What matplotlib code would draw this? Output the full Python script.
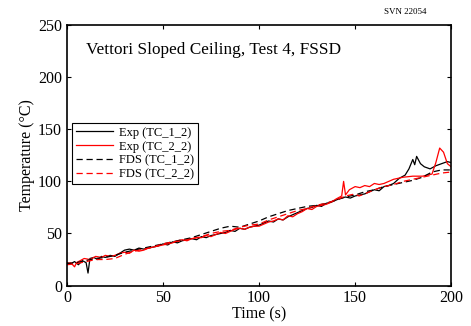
import numpy as np
import matplotlib.pyplot as plt

plt.rcParams['font.family'] = ['Liberation Serif', 'DejaVu Serif']

# Exp TC_1_2 (black solid)
t_exp1 = [0, 2, 4, 6, 8, 10, 11, 12, 14, 16, 18, 20, 22.5, 25, 27.5, 30, 32.5, 35, 37.5,
          40, 42.5, 45, 47.5, 50, 52.5, 55, 57.5, 60, 62.5, 65, 67.5, 70, 72.5, 75,
          77.5, 80, 82.5, 85, 87.5, 90, 92.5, 95, 97.5, 100, 102.5, 105, 107.5, 110,
          112.5, 115, 117.5, 120, 122.5, 125, 127.5, 130, 132.5, 135, 137.5, 140,
          142.5, 145, 147.5, 150, 152.5, 155, 157.5, 160, 162.5, 165, 167.5, 170,
          173, 176, 178, 180, 181, 182, 184, 186, 189, 192, 195, 198, 200]
T_exp1 = [22, 21, 23, 20, 24, 22, 12, 26, 27, 25, 28, 27, 29, 28, 31, 34, 35, 34, 36,
          35, 36, 37, 38, 40, 39, 42, 41, 43, 44, 45, 44, 47, 46, 48,
          49, 50, 51, 53, 52, 55, 54, 56, 57, 58, 60, 62, 61, 64,
          63, 66, 68, 70, 72, 74, 75, 77, 76, 79, 80, 82,
          84, 85, 84, 86, 87, 88, 90, 92, 91, 95, 96, 98,
          103, 106, 112, 121, 116, 124, 117, 114, 112, 115, 117, 119, 118]

# Exp TC_2_2 (red solid)
t_exp2 = [0, 2, 4, 5, 7, 9, 12, 15, 18, 20, 22.5, 25, 27.5, 30, 32.5, 35, 37.5, 40,
          42.5, 45, 47.5, 50, 52.5, 55, 57.5, 60, 62.5, 65, 67.5, 70, 72.5, 75, 77.5,
          80, 82.5, 85, 87.5, 90, 92.5, 95, 97.5, 100, 102.5, 105, 107.5, 110, 112.5,
          115, 117.5, 120, 122.5, 125, 127.5, 130, 132.5, 135, 137.5, 140, 143, 144,
          145, 147, 150, 152.5, 155, 157.5, 160, 162.5, 165, 167.5, 170, 175, 180,
          185, 190, 192, 194, 196, 198, 200]
T_exp2 = [21, 22, 18, 22, 24, 26, 25, 28, 27, 29, 28, 29, 31, 32, 31, 34, 33, 34,
          36, 37, 38, 39, 40, 41, 43, 44, 43, 45, 46, 46, 48, 47, 49,
          51, 50, 52, 54, 55, 54, 56, 57, 57, 59, 61, 62, 64, 63,
          67, 66, 69, 71, 74, 73, 76, 77, 78, 80, 83, 86, 100,
          87, 92, 95, 94, 96, 95, 98, 97, 98, 100, 102, 104, 105,
          105, 107, 118, 132, 128, 117, 114]

# FDS TC_1_2 (black dashed)
t_fds1 = [0, 5, 10, 15, 20, 25, 30, 35, 40, 45, 50, 55, 60, 65, 70, 75, 80, 85, 90, 95,
          100, 105, 110, 115, 120, 125, 130, 135, 140, 145, 150, 155, 160, 165,
          170, 175, 180, 185, 190, 195, 200]
T_fds1 = [21, 22, 24, 26, 27, 29, 32, 34, 36, 38, 40, 42, 44, 46, 49, 52, 55, 57, 56, 59,
          62, 66, 69, 72, 74, 76, 77, 79, 82, 85, 87, 90, 92, 95,
          97, 99, 101, 104, 109, 111, 111]

# FDS TC_2_2 (red dashed)
t_fds2 = [0, 5, 10, 15, 20, 25, 30, 35, 40, 45, 50, 55, 60, 65, 70, 75, 80, 85, 90, 95,
          100, 105, 110, 115, 120, 125, 130, 135, 140, 145, 150, 152, 155, 160, 165,
          170, 175, 180, 185, 190, 195, 200]
T_fds2 = [20, 21, 23, 25, 25, 26, 30, 33, 35, 37, 40, 42, 43, 45, 47, 50, 52, 53, 56, 58,
          59, 63, 66, 69, 72, 74, 77, 79, 82, 86, 88, 86, 88, 92, 95,
          97, 100, 102, 104, 106, 108, 109]

fig = plt.figure(figsize=(4.71, 3.26), dpi=100)
ax = fig.add_axes([0.142, 0.124, 0.816, 0.799])

ax.plot(t_exp1, T_exp1, color='black', lw=0.9, label='Exp (TC_1_2)')
ax.plot(t_exp2, T_exp2, color='red', lw=0.9, label='Exp (TC_2_2)')
ax.plot(t_fds1, T_fds1, color='black', lw=0.9, ls=(0, (5, 3)), label='FDS (TC_1_2)')
ax.plot(t_fds2, T_fds2, color='red', lw=0.9, ls=(0, (5, 3)), label='FDS (TC_2_2)')

ax.set_xlim(0, 200)
ax.set_ylim(0, 250)
ax.set_xticks([0, 50, 100, 150, 200])
ax.set_yticks([0, 50, 100, 150, 200, 250])
ax.tick_params(direction='in', top=True, right=True, labelsize=11.5, length=3)
for s in ax.spines.values():
    s.set_linewidth(1.2)

ax.set_xlabel('Time (s)', fontsize=11.5, labelpad=0)
ax.set_ylabel('Temperature (°C)', fontsize=11.5, labelpad=2)

ax.text(10, 226, 'Vettori Sloped Ceiling, Test 4, FSSD', fontsize=12.4, va='center')
fig.text(0.86, 0.963, 'SVN 22054', fontsize=6.5, ha='center', va='center')

leg = ax.legend(loc='upper left', bbox_to_anchor=(0.013, 0.624), borderaxespad=0,
                fontsize=9, fancybox=False, framealpha=1, handlelength=3,
                borderpad=0.3, labelspacing=0.15, handletextpad=0.5)
leg.get_frame().set_edgecolor('black')
leg.get_frame().set_linewidth(0.8)

fig.savefig('out.png', dpi=100)
